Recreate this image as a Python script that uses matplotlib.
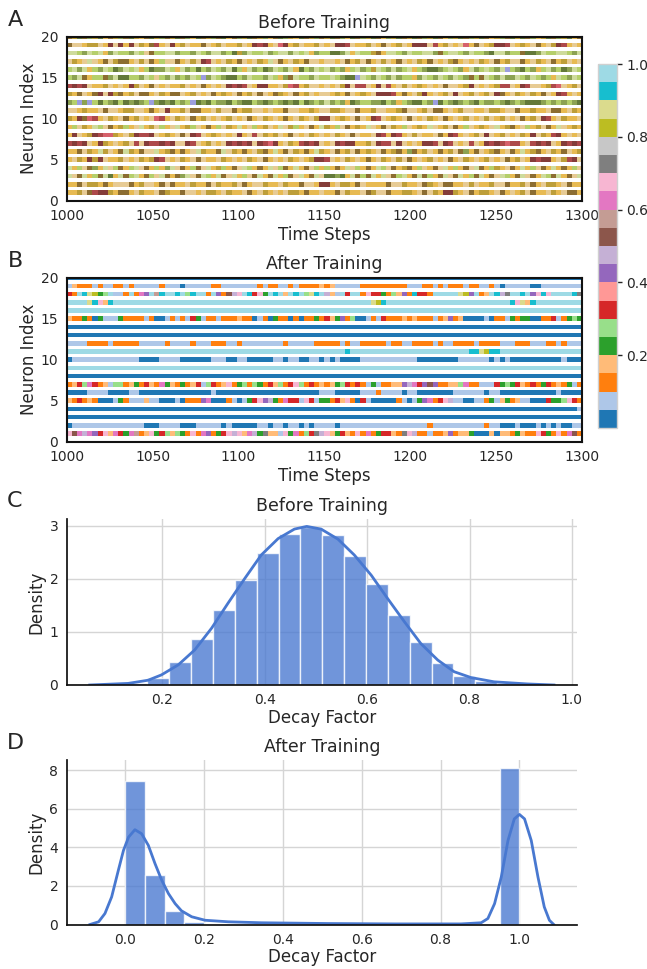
import numpy as np
import matplotlib.pyplot as plt
from matplotlib.colors import Normalize
from matplotlib.cm import ScalarMappable

# figure geometry in pixels
W, H = 647, 969
DARK = '#262626'
plt.rcParams['font.family'] = ['DejaVu Sans']
plt.rcParams['text.color'] = DARK
plt.rcParams['axes.labelcolor'] = DARK
plt.rcParams['xtick.color'] = DARK
plt.rcParams['ytick.color'] = DARK

# ---- raster data: one row per neuron (top = neuron 20), one char = 3 time steps
# char -> colour slot of a 20-colour map, value = (slot + 0.5) / 20
code_chars = "0123456789abcdefghij"
t_start, t_end = 1000, 1300
neuron_ids = list(range(20, 0, -1))

before_rows = [
    "8948594a895849a84958" "9485a489584a8594895a" "8459a489589485a48594" "8a59489485948a594859" "48a95849485a948594a8",
    "8bba99bacb" "cacb9a8dab" "ca9baa8ba9" "baa9bacdca" "beca9baa9b" "abccdbaa9b" "a8ba9baccc" "bda9babea8" "ba9ccdba9a" "b8ab9cdaba",
    "7765767a57" "66576b8667" "7566576577" "5649576675" "6775767a56" "64457a7669" "8a77657667" "7586776576" "6547756684" "4576677657",
    "b9ab7ba8b9" "88ab9b8a6b" "b8ab9bcdba" "b9a8bab9a7" "b8ab9a8bba" "bbab8a9b8a" "b9ba8bab9a" "8bab98abab" "9ab8a9bb8a" "b9ab8a9bab",
    "6757a65764" "5767a64557" "6a75646576" "5746a75645" "7657a46576" "7565a67569" "7657567a65" "4456765a75" "6765736546" "5a67564576",
    "6578a66857" "4466576b65" "7565763576" "5446576657" "6a58766576" "6765443765" "7657566a57" "6576576586" "8765755765" "7656a76576",
    "dcdcbaa9ba" "bac9ba8bab" "aa9bab8aba" "bcdcdbacca" "ab9eda9bba" "bab9cbddba" "cbdab9ba9a" "bab8bba9cb" "aba9ddbacd" "bba9deba9b",
    "9a8ba8cbc9" "8a9b88ab9a" "88ba9bab8a" "9ab8a9b8ba" "89ab8a9bab" "ba9a8ba9ab" "cccda8ab9c" "aba9bcba9b" "a9bc8ab9ab" "9a8bacdaba",
    "5635364654" "6454563545" "4656345465" "5465446545" "6545464565" "7565a45665" "5465a65446" "5346545654" "6556545654" "4456565654",
    "bba9aab8bb" "a99bba8abc" "aa9b88aab9" "bb8a99bbab" "aa8bbaa9ab" "b99abb8aa9" "bbaa98bba9" "b88aba9bba" "ab99abb8aa" "9aab88ab9a",
    "9ac8edab9a" "b8a9babeda" "b9ab8a9bab" "a9bab8ab9a" "ba8ab9ab9c" "cba9ab8bac" "dba9ab8bab" "9ab8aba9ba" "b9ba9bab8a" "9bcdab9aab",
    "a6b9a76b8a" "96ab7a9b6a" "b7a96ba8a6" "b9a7ab6a9b" "a7b96ab8a7" "9a6b8a9a7b" "a8b9a6ba9a" "7ba9b8a6ba" "9ab7a98ab6" "a9b8a7ba9a",
    "acba9cdee9" "ab9cddcba9" "ab8bcdba9a" "babcabdb9a" "9ba8bab9ab" "ab9ab8baab" "cdacdab9ba" "ab8acdaba9" "bcba9bab9a" "cb9adcabab",
    "dcdcbac9ab" "a9bdbcddcd" "cbbcdba9ba" "bcdcdcbcde" "cab9adcdcb" "abcdccaa9b" "cddbcbabac" "cdbcdbabdb" "acdcdeddab" "dcdcbacdcd",
    "aa8b9a79ba" "879a8bb7a9" "8a8ab79aa8" "7b9a8ab98a" "7a8b9a8a79" "ab8a9b8a9a" "b8a98a58a9" "ba8a9b85a8" "ba98ab8a7a" "98ab9a8ba9",
    "ab9ac9cbaa" "9bab9a9cdb" "ab9ab8baab" "9abab9ab8a" "bab9aba9cc" "dbab9aba8a" "b9ab9b8aba" "9bab8ab9ab" "a9bab8a9ba" "cdccab9dcb",
    "7a6b85a7b6" "8a67b8a6a5" "7b8a68b7a9" "6a8b76a8a7" "b68a7a8b6a" "6a8a7b6a8a" "76b8a98a6b" "a8b7a6a8b7" "8a69ab8a7a" "6b8a7a8a6b",
    "7b87a6874a" "7867a86b78" "a857b876a7" "8b7a6b87a8" "7a68b7a87b" "4454a78687" "a7b867a878" "6a87b87a68" "7a8b76a87b" "8a7687a8b7",
    "aa8b99a8ab" "bb8a9bba8b" "8aab9aa8b9" "aa9b8abb9a" "ab9aa8bbac" "cab99a8baa" "aa8bb9aab8" "9ab88aab9b" "aa9bb8aa9b" "8ab99ab8aa",
    "aa9b8dcc9a" "88ab9aab89" "aa8bbab99a" "b9aab8ab9a" "bab99a8aab" "aa8b9aab89" "bb8aa99ab8" "b9acc9ab8a" "99ab8aba9b" "8aab9ab88a",
]

after_rows = [
    "0" * 100,
    "1322212112" "2121111121" "1101111122" "1111111212" "2112122223" "2311111222" "2222221112" "2121222122" "1121011111" "0011111111",
    "62jihg45j1" "12j2c8jbij" "jij5ijj2j8" "2a9dji6d4j" "ij3jij5hij" "931j6jj2d6" "6425382i66" "2jjjjjhg8j" "23ji9ejjij" "8didjjjjie",
    "jjjjhid3ij" + "j" * 40 + "jjjjjjjjjh" "gijjjjjjjj" "jjjjjjjjjj" "jjjjjjidh3" "ijjjjjjjjj",
    "j" * 100,
    "3224204111" "4222212001" "2121641221" "2223220120" "4220202242" "6348250012" "1622232322" "2123823000" "0102214244" "0022612454",
    "0" * 100,
    "0" * 100,
    "1111222212" "2222111112" "1111211122" "2112111111" "1121111122" "2221211222" "2212211222" "2121122221" "2222111222" "1112212111",
    "j" * 50 + "jjjjijjjjj" "jjjjjjjjjj" "jjjjjjjjii" "hgiijjjjjj" "jjjjjjjjjj",
    "0111111111" "1111000011" "1100000011" "1001100000" "1101100110" "1010000111" "1111111100" "0000001111" "1101010000" "0000001000",
    "j" * 100,
    "0" * 100,
    "2365c62315" "52342632c4" "3242361562" "3d24525426" "3526d52623" "2345626214" "1223389c68" "a822335c22" "1116454632" "6246232412",
    "0000111100" "0011000000" "0000000010" "0000000000" "0000000001" "1100000111" "2111101100" "0000011111" "1011000000" "0000010000",
    "3262320001" "4211131100" "0102228c00" "0210146d89" "42c661d614" "4263d20610" "0000210148" "c26d911001" "1241342311" "0006445d62",
    "0" * 99 + "1",
    "0" * 100,
    "0111111111" "1111100011" "1100011111" "0100000110" "1101101011" "1101111111" "1111111111" "2111111111" "1211000100" "0101010011",
    "dac9c86d3c" "64cb23d465" "3542d2c824" "6d9d3c94e3" "31d4c256e9" "d34632d2c2" "46632ed922" "1223823340" "0030332432" "2d642d2ca2",
]

# ---- decay factor histograms (density) and their KDE curves
before_edges = [0.0853 + 0.0427 * i for i in range(21)]
before_density = [0.005, 0.03, 0.14, 0.43, 0.87, 1.41, 1.98, 2.49, 2.84, 2.97,
                  2.82, 2.44, 1.90, 1.32, 0.81, 0.42, 0.17, 0.08, 0.04, 0.02]
before_kde_x = [0.058, 0.133, 0.172, 0.198, 0.231, 0.263, 0.296, 0.328, 0.361, 0.393,
                0.426, 0.458, 0.482, 0.510, 0.543, 0.575, 0.608, 0.640, 0.673, 0.705,
                0.738, 0.770, 0.803, 0.848, 0.913, 0.965]
before_kde_y = [0.0, 0.03, 0.09, 0.19, 0.38, 0.66, 1.07, 1.54, 2.01, 2.45,
                2.76, 2.94, 2.99, 2.94, 2.75, 2.45, 2.07, 1.63, 1.19, 0.78,
                0.47, 0.25, 0.14, 0.06, 0.02, 0.0]

after_edges = [0.05 * i for i in range(21)]
after_density = [7.42, 2.58, 0.72, 0.14, 0.05, 0.02, 0.02, 0.02, 0.02, 0.02,
                 0.02, 0.02, 0.02, 0.02, 0.02, 0.02, 0.02, 0.02, 0.03, 8.11]
after_kde_x = [-0.089, -0.067, -0.051, -0.034, -0.017, -0.004, 0.009, 0.025, 0.042, 0.059,
               0.076, 0.093, 0.110, 0.127, 0.143, 0.169, 0.203, 0.262, 0.346, 0.515,
               0.684, 0.852, 0.903, 0.920, 0.937, 0.954, 0.971, 0.987, 1.0, 1.013,
               1.030, 1.047, 1.063, 1.076, 1.087]
after_kde_y = [0.0, 0.14, 0.57, 1.43, 2.81, 3.84, 4.53, 4.91, 4.70, 4.10,
               3.15, 2.29, 1.60, 1.08, 0.71, 0.40, 0.22, 0.14, 0.09, 0.05,
               0.03, 0.03, 0.09, 0.31, 1.08, 2.46, 4.35, 5.47, 5.70, 5.47,
               4.35, 2.46, 0.91, 0.22, 0.0]


def box(left, top, right, bottom):
    return [left / W, 1 - bottom / H, (right - left) / W, (bottom - top) / H]


def decode(row):
    return np.array([(code_chars.index(c) + 0.5) / 20 for c in row])


norm = Normalize(0, 1)


def draw_raster(ax, rows, cmap, title):
    for y, row in zip(neuron_ids, rows):
        vals = decode(row)
        xe = np.linspace(t_start, t_end, len(vals) + 1)
        ax.pcolormesh(xe, [y - 0.27, y + 0.27], vals[None, :], cmap=cmap,
                      norm=norm, shading='flat', rasterized=True)
    ax.set_xlim(t_start, t_end)
    ax.set_ylim(0, 20)
    ax.set_xticks(range(1000, 1301, 50))
    ax.set_yticks([0, 5, 10, 15, 20])
    ax.tick_params(length=0, pad=6, labelsize=10)
    for s in ax.spines.values():
        s.set_color('#111111')
        s.set_linewidth(1.5)
    ax.set_xlabel('Time Steps', fontsize=12, labelpad=2)
    ax.set_ylabel('Neuron Index', fontsize=12, labelpad=2)
    ax.set_title(title, fontsize=12.5, pad=6)


def draw_hist(ax, edges, dens, kx, ky, title, xlim, ylim, xticks, yticks):
    ax.set_axisbelow(True)
    ax.grid(True, color='#d5d5d5', lw=1)
    widths = np.diff(edges)
    ax.bar(edges[:-1], dens, width=widths, align='edge', color='#4878d0',
           alpha=0.78, edgecolor='white', linewidth=1)
    ax.plot(kx, ky, color='#4878d0', lw=2)
    ax.set_xlim(*xlim)
    ax.set_ylim(*ylim)
    ax.set_xticks(xticks)
    ax.set_yticks(yticks)
    ax.tick_params(length=0, pad=6, labelsize=10)
    for side in ['top', 'right']:
        ax.spines[side].set_visible(False)
    for side in ['left', 'bottom']:
        ax.spines[side].set_color('#111111')
        ax.spines[side].set_linewidth(1.25)
    ax.set_xlabel('Decay Factor', fontsize=12, labelpad=1)
    ax.set_ylabel('Density', fontsize=12, labelpad=3)
    ax.set_title(title, fontsize=12.5, pad=6)


fig = plt.figure(figsize=(W / 100, H / 100), dpi=100)

axA = fig.add_axes(box(66.7, 36.7, 582, 200.7))
draw_raster(axA, before_rows, 'tab20b', 'Before Training')

axB = fig.add_axes(box(66.7, 277.7, 582, 441.7))
draw_raster(axB, after_rows, 'tab20', 'After Training')

cax = fig.add_axes(box(598, 64, 617, 428))
cb = fig.colorbar(ScalarMappable(norm=norm, cmap='tab20'), cax=cax,
                  ticks=[0.2, 0.4, 0.6, 0.8, 1.0])
cb.outline.set_edgecolor('#d0d0d0')
cb.outline.set_linewidth(1)
cax.tick_params(length=3.5, width=1, pad=3, labelsize=10, color=DARK)

axC = fig.add_axes(box(66.7, 519, 577, 685))
draw_hist(axC, before_edges, before_density, before_kde_x, before_kde_y,
          'Before Training', (0.013, 1.01), (0, 3.13),
          [0.2, 0.4, 0.6, 0.8, 1.0], [0, 1, 2, 3])

axD = fig.add_axes(box(66.7, 760, 577, 924.5))
draw_hist(axD, after_edges, after_density, after_kde_x, after_kde_y,
          'After Training', (-0.148, 1.146), (0, 8.52),
          [0.0, 0.2, 0.4, 0.6, 0.8, 1.0], [0, 2, 4, 6, 8])

for letter, y in zip('ABCD', [20.5, 261, 501, 743]):
    fig.text(15 / W, 1 - y / H, letter, fontsize=16, ha='center', va='center')

fig.savefig('out.png', dpi=100)
